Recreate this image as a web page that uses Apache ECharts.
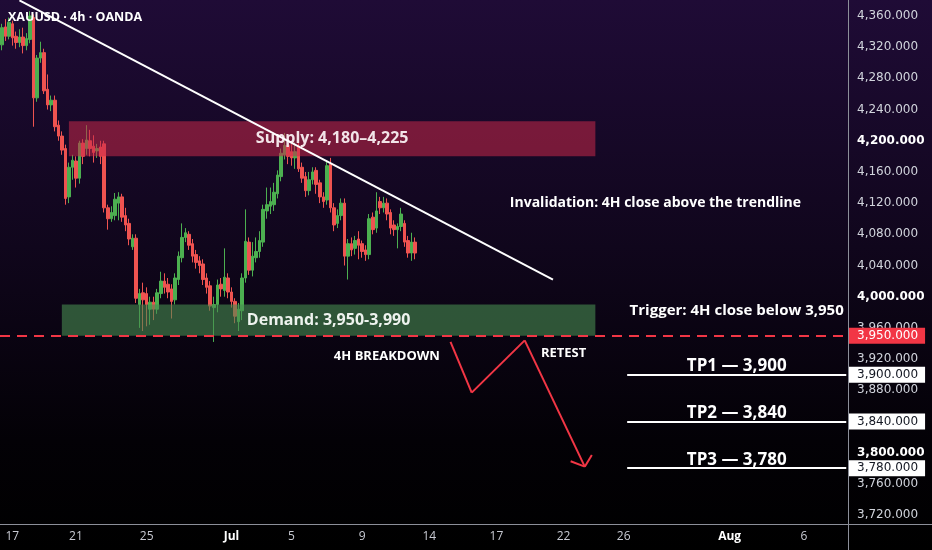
<!DOCTYPE html>
<html><head><meta charset="utf-8">
<script src="https://cdn.jsdelivr.net/npm/echarts@6/dist/echarts.min.js"></script>
<style>html,body{margin:0;padding:0;background:#000}#c{width:932px;height:550px}</style>
</head><body><div id="c"></div>
<script>
// ---- data (4h candles) ----
const opens = [4323,4346,4334,4350,4334,4326,4333,4322,4330,4358,4255,4306,4313,4266,4246,4252,4220,4206,4190,4128,
4166,4174,4152,4197,4190,4200,4193,4187,4192,4196,4114,4100,4104,4120,4128,4104,4094,4064,4075,3990,
4005,4004,3984,3993,3984,4004,4020,4016,4010,3996,4022,4050,4076,4080,4068,4054,4046,4042,4024,4014,
3986,3990,4016,4008,4024,4006,3994,3968,3982,4024,4070,4034,4050,4058,4070,4110,4116,4118,4132,4154,
4182,4194,4186,4178,4192,4166,4154,4136,4150,4162,4146,4128,4124,4170,4114,4094,4104,4120,4052,4068,
4062,4074,4068,4060,4054,4102,4088,4122,4114,4120,4108,4092,4086,4090,4094,4072,4056,4070];
const closes = [4345,4334,4352,4332,4326,4333,4322,4331,4360,4255,4306,4313,4264,4246,4252,4218,4206,4188,4126,4166,
4175,4152,4197,4180,4201,4190,4185,4190,4180,4114,4100,4108,4125,4128,4102,4092,4074,4075,3998,4004,
3996,3990,3993,3984,4005,4020,4012,4006,3994,4024,4052,4076,4082,4066,4052,4044,4040,4022,4012,3988,
3990,4015,4010,4025,4006,3994,3975,3984,4024,4071,4034,4052,4058,4072,4112,4118,4122,4134,4156,4184,
4194,4180,4178,4186,4164,4152,4136,4150,4160,4144,4128,4122,4168,4114,4092,4104,4120,4052,4068,4060,
4072,4066,4058,4054,4100,4086,4110,4114,4120,4106,4088,4086,4090,4106,4070,4056,4070,4056];
const lows = [4316,4328,4330,4322,4318,4320,4312,4316,4325,4218,4250,4300,4260,4240,4238,4212,4200,4182,4118,4120,
4150,4140,4145,4170,4182,4180,4172,4178,4170,4108,4086,4096,4098,4098,4096,4084,4066,4060,3992,3960,
3956,3962,3964,3970,3978,3998,4004,3998,3972,3990,4015,4044,4070,4060,4044,4036,4030,4015,4004,3982,
3942,3980,4000,4000,3998,3986,3966,3956,3970,4018,4028,4026,4044,4050,4064,4100,4106,4110,4126,4148,
4176,4170,4168,4164,4160,4146,4128,4130,4144,4132,4120,4114,4118,4108,4084,4088,4098,4040,4022,4052,
4054,4048,4050,4046,4048,4080,4082,4106,4108,4098,4080,4078,4062,4084,4064,4050,4046,4048];
const highs = [4350,4356,4358,4354,4340,4343,4345,4338,4366,4362,4310,4327,4318,4285,4258,4258,4226,4212,4195,4172,
4182,4180,4200,4202,4220,4214,4207,4196,4200,4200,4118,4116,4133,4134,4132,4114,4100,4080,4080,4010,
4018,4012,4000,4000,4010,4032,4030,4024,4016,4030,4058,4094,4088,4084,4074,4060,4052,4048,4030,4020,
4000,4022,4024,4062,4030,4012,3998,3992,4030,4112,4076,4070,4076,4084,4118,4140,4140,4146,4162,4190,
4210,4200,4196,4198,4212,4172,4160,4160,4166,4166,4150,4134,4174,4178,4120,4112,4126,4126,4074,4076,
4078,4084,4072,4066,4106,4108,4134,4128,4128,4126,4112,4098,4094,4114,4098,4078,4082,4076];

const slotCount = 240;
const xTickSlots = [3,21,41,65,82,102,121,140,159,176,206,227];
const xTickLabels = ['17','21','25','Jul','5','9','14','17','22','26','Aug','6'];
const yTicks = [3720,3760,3800,3840,3880,3920,3960,4000,4040,4080,4120,4160,4200,4240,4280,4320,4360];
const yMin = 3708.5, yMax = 4380.5;

const supply = [4180, 4225];
const demand = [3950, 3990];
const zoneSlots = {supply: [19, 168], demand: [17, 168]};
const trigger = 3950;
const targets = [3900, 3840, 3780];
const targetNames = ['TP1', 'TP2', 'TP3'];
const targetSlots = [177, 239];
const trendline = [[5, 4380], [156, 4022]];
const pathPts = [[127, 3942], [133, 3877], [148, 3944], [165, 3782]];
const arrowWings = [[161, 3789], [167, 3797]];
const notes = [
  {slot: 185, value: 4120, text: 'Invalidation: 4H close above the trendline', size: 14},
  {slot: 208, value: 3982, text: 'Trigger: 4H close below 3,950', size: 15},
  {slot: 109, value: 3924, text: '4H BREAKDOWN', size: 13},
  {slot: 159, value: 3928, text: 'RETEST', size: 13}
];

// ---- chart ----
const fmt3 = v => v.toLocaleString('en-US', {minimumFractionDigits: 3, maximumFractionDigits: 3});
const fmt0 = v => v.toLocaleString('en-US');
const FONT = 'Open Sans';
const AXFONT = 'DejaVu Sans';
const RED = '#f23645';

const candles = opens.map((o, i) => [o, closes[i], lows[i], highs[i]]);
const categories = Array.from({length: slotCount}, (_, i) => String(i));

const boxLabel = (v, bg, fg) => ({
  show: true, position: 'end', distance: 1, formatter: fmt3(v),
  backgroundColor: bg, color: fg, padding: [2, 7, 1, 8],
  fontSize: 12, fontFamily: AXFONT, lineHeight: 13, opacity: 1
});

const lineData = [];
lineData.push({yAxis: trigger, lineStyle: {color: RED, type: [10, 7], width: 2}, label: boxLabel(trigger, RED, '#ffffff')});
targets.forEach((t, k) => {
  lineData.push([
    {coord: [targetSlots[0], t], lineStyle: {color: '#ffffff', width: 2, type: 'solid'},
     label: {show: true, position: 'insideMiddleTop', distance: 0, formatter: targetNames[k] + ' \u2014 ' + fmt0(t),
             color: '#ffffff', fontSize: 17, fontWeight: 'bold', fontFamily: FONT}},
    {coord: [targetSlots[1], t]}
  ]);
  lineData.push({yAxis: t, lineStyle: {color: 'rgba(0,0,0,0)', width: 0}, label: boxLabel(t, '#ffffff', '#131722')});
});
lineData.push([{coord: trendline[0], lineStyle: {color: '#ffffff', width: 2, type: 'solid'}}, {coord: trendline[1]}]);
for (let k = 0; k < pathPts.length - 1; k++) {
  lineData.push([{coord: pathPts[k], lineStyle: {color: RED, width: 2, type: 'solid'}}, {coord: pathPts[k + 1]}]);
}
arrowWings.forEach(w => {
  lineData.push([{coord: w, lineStyle: {color: RED, width: 2, type: 'solid'}}, {coord: pathPts[pathPts.length - 1]}]);
});

const chart = echarts.init(document.getElementById('c'), null, {renderer: 'canvas'});
chart.setOption({
  animation: false,
  backgroundColor: {type: 'linear', x: 0, y: 0, x2: 0, y2: 1,
    colorStops: [{offset: 0, color: '#1f0b36'}, {offset: 0.45, color: '#10061c'}, {offset: 0.8, color: '#030106'}, {offset: 1, color: '#000000'}]},
  title: {text: 'XAUUSD \u00b7 4h \u00b7 OANDA', left: 3, top: 6,
    textStyle: {color: '#ffffff', fontSize: 12.5, fontWeight: 'bold', fontFamily: FONT}},
  grid: {left: 0, right: 84, top: 0, bottom: 26},
  xAxis: {
    type: 'category', data: categories, boundaryGap: true,
    axisLine: {show: false}, axisTick: {show: false}, splitLine: {show: false},
    axisLabel: {
      interval: (idx) => xTickSlots.includes(idx),
      formatter: (val, idx) => {
        const t = xTickLabels[xTickSlots.indexOf(Number(val))];
        return /[A-Za-z]/.test(t) ? '{b|' + t + '}' : t;
      },
      color: '#c8cad3', fontSize: 12, fontFamily: FONT, margin: 7,
      rich: {b: {color: '#ffffff', fontWeight: 'bold', fontSize: 12, fontFamily: FONT}}
    }
  },
  yAxis: {
    type: 'value', position: 'right', min: yMin, max: yMax,
    axisLine: {show: false}, axisTick: {show: false}, splitLine: {show: false},
    axisLabel: {
      customValues: yTicks, margin: 9, color: '#d1d4dc', fontSize: 12, fontFamily: AXFONT,
      formatter: v => (v % 200 === 0 ? '{b|' + fmt3(v) + '}' : fmt3(v)),
      rich: {b: {color: '#ffffff', fontWeight: 'bold', fontSize: 12, fontFamily: AXFONT}}
    }
  },
  graphic: [
    {type: 'line', silent: true, z: 10, shape: {x1: 0, y1: 524.5, x2: 932, y2: 524.5}, style: {stroke: '#8c8f99', lineWidth: 1}},
    {type: 'line', silent: true, z: 10, shape: {x1: 848.5, y1: 0, x2: 848.5, y2: 550}, style: {stroke: '#8c8f99', lineWidth: 1}}
  ],
  series: [{
    type: 'candlestick', data: candles, barWidth: 3,
    itemStyle: {color: '#4caf50', color0: '#ef5350', borderColor: '#4caf50', borderColor0: '#ef5350', borderWidth: 1},
    markArea: {
      z: 3, silent: true,
      label: {show: true, position: 'inside', fontSize: 16, fontWeight: 'bold', fontFamily: FONT},
      data: [
        [{name: 'Supply: ' + fmt0(supply[0]) + '\u2013' + fmt0(supply[1]), coord: [zoneSlots.supply[0], supply[1]],
          itemStyle: {color: 'rgba(200,40,72,0.55)'}, label: {color: '#f2e4e8'}},
         {coord: [zoneSlots.supply[1], supply[0]]}],
        [{name: 'Demand: ' + fmt0(demand[0]) + '-' + fmt0(demand[1]), coord: [zoneSlots.demand[0], demand[1]],
          itemStyle: {color: 'rgba(72,140,80,0.6)'}, label: {color: '#eef3ee'}},
         {coord: [zoneSlots.demand[1], demand[0]]}]
      ]
    },
    markLine: {
      z: 5, silent: true, symbol: ['none', 'none'], precision: 3,
      label: {show: false},
      data: lineData
    },
    markPoint: {
      z: 6, silent: true, symbol: 'circle', symbolSize: 0, itemStyle: {color: 'transparent'},
      data: notes.map(n => ({coord: [n.slot, n.value], value: 0,
        label: {show: true, position: 'inside', formatter: n.text, color: '#ffffff', fontSize: n.size,
                fontWeight: 'bold', fontFamily: FONT}}))
    }
  }]
});
</script>
</body></html>
